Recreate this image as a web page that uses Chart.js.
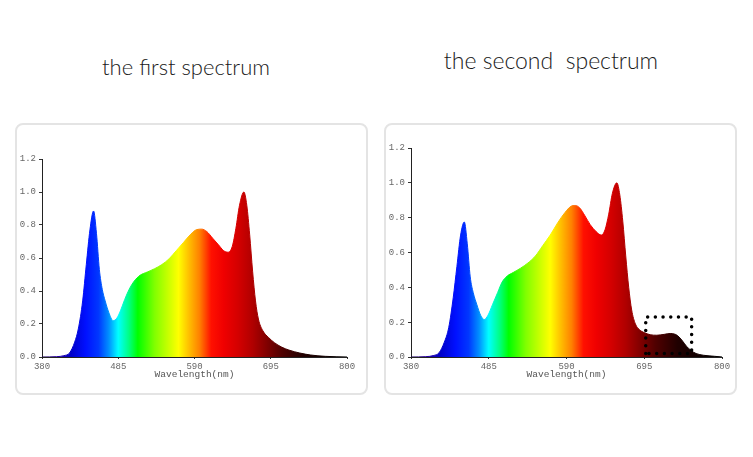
<!DOCTYPE html>
<html>
<head>
<meta charset="utf-8">
<script src="https://cdn.jsdelivr.net/npm/chart.js@4.4.1/dist/chart.umd.min.js"></script>
<style>
  html, body { margin:0; padding:0; background:#fff; width:753px; height:457px; overflow:hidden; }
  .title { position:absolute; font-family:"Lato", sans-serif; font-weight:300; font-size:23px; color:#1a1a1a; white-space:pre; text-align:center; }
  .panel { position:absolute; left:0; top:0; width:353px; height:272px; box-sizing:border-box; border:2px solid #e4e4e4; border-radius:8px; }
  .wrap { position:absolute; width:353px; height:272px; }
  canvas { position:absolute; left:0; top:0; }
</style>
</head>
<body>
<div class="title" id="t1" style="left:86px; top:53px; width:200px; font-size:22px;">the first spectrum</div>
<div class="title" id="t2" style="left:431px; top:46px; width:240px;">the second  spectrum</div>
<div class="wrap" style="left:15px; top:123px;"><div class="panel"></div><canvas id="c1" width="353" height="272"></canvas></div>
<div class="wrap" style="left:384px; top:123px;"><div class="panel"></div><canvas id="c2" width="353" height="272"></canvas></div>
<script>
const xTicks = [380, 485, 590, 695, 800];
const yTicks = [0.0, 0.2, 0.4, 0.6, 0.8, 1.0, 1.2];
const xLabel = "Wavelength(nm)";

const wavelengths1 = [380,400,410,418,425,430,436,441,446,451,455,459,463,467,472,478,483,488,494,500,507,515,525,535,545,555,565,575,585,593,600,607,615,623,630,636,642,647,652,658,662,666,670,674,678,684,692,700,710,720,735,750,770,800];
const intensity1  = [0,0.002,0.008,0.025,0.09,0.17,0.34,0.56,0.77,0.885,0.75,0.53,0.41,0.34,0.27,0.22,0.235,0.28,0.35,0.41,0.46,0.495,0.515,0.535,0.56,0.595,0.645,0.695,0.745,0.772,0.775,0.76,0.72,0.68,0.645,0.635,0.67,0.78,0.92,1.0,0.92,0.74,0.52,0.34,0.23,0.16,0.118,0.087,0.06,0.042,0.024,0.012,0.004,0];

const wavelengths2 = [380,400,410,418,425,431,437,442,447,452,456,460,464,469,474,479,484,490,497,503,510,518,528,538,548,558,568,578,588,596,602,608,615,622,630,637,642,647,652,658,662,666,670,674,678,683,689,695,703,712,722,730,737,742,747,752,758,765,775,790,800];
const intensity2  = [0,0.002,0.008,0.025,0.085,0.17,0.34,0.52,0.7,0.775,0.65,0.46,0.37,0.3,0.24,0.215,0.24,0.3,0.37,0.43,0.465,0.485,0.51,0.54,0.58,0.64,0.7,0.77,0.83,0.865,0.87,0.855,0.81,0.76,0.72,0.7,0.73,0.82,0.94,1.0,0.93,0.78,0.58,0.4,0.27,0.19,0.155,0.14,0.128,0.125,0.13,0.135,0.13,0.115,0.09,0.062,0.038,0.02,0.01,0.004,0];

const highlightX = [697, 759];
const highlightY = [0.02, 0.23];

const colorStopsNm = [380,400,420,440,458,472,485,500,512,535,568,582,597,613,630,650,670,690,710,740,800];
const colorStops = ['#1a0050','#2a00a0','#0000c8','#0010ff','#0038ff','#0090ff','#00ffff','#00ff80','#00ff00','#80ff00','#ffff00','#ffc000','#ff8000','#ff1000','#f00000','#d40000','#b00000','#800000','#500000','#200000','#000000'];

function spectrumGradient(ctx) {
  const chart = ctx.chart;
  const area = chart.chartArea;
  if (!area) return '#888';
  const xs = chart.scales.x;
  const x0 = xs.getPixelForValue(380), x1 = xs.getPixelForValue(800);
  const g = chart.ctx.createLinearGradient(x0, 0, x1, 0);
  colorStopsNm.forEach((nm, i) => {
    g.addColorStop((xs.getPixelForValue(nm) - x0) / (x1 - x0), colorStops[i]);
  });
  return g;
}

function makeChart(id, wl, vals, padTop, padRight, extra) {
  const datasets = [{
    data: wl.map((w, i) => ({x: w, y: vals[i]})),
    fill: 'origin',
    backgroundColor: spectrumGradient,
    borderColor: spectrumGradient,
    borderWidth: 1,
    pointRadius: 0,
    cubicInterpolationMode: 'monotone',
    tension: 0.4,
    order: 2
  }];
  if (extra) datasets.push(extra);
  const mono = { family: '"Liberation Mono", monospace', size: 9 };
  return new Chart(document.getElementById(id), {
    type: 'line',
    data: { datasets },
    options: {
      responsive: false,
      animation: false,
      layout: { padding: { left: 0, right: padRight, top: padTop, bottom: 15 } },
      plugins: { legend: { display: false }, tooltip: { enabled: false } },
      scales: {
        x: {
          type: 'linear', min: 380, max: 800,
          afterBuildTicks: s => { s.ticks = xTicks.map(v => ({value: v})); },
          afterFit: s => { s.height = 23; },
          ticks: { font: mono, color: '#666', padding: 2, maxRotation: 0, autoSkip: false },
          grid: { drawOnChartArea: false, drawTicks: true, tickLength: 2, color: '#333' },
          border: { display: true, color: '#222', width: 1 },
          title: { display: true, text: xLabel, font: { family: '"Liberation Mono", monospace', size: 9.5 }, color: '#555', padding: { top: 0, bottom: 0 } }
        },
        y: {
          min: 0, max: 1.2,
          afterBuildTicks: s => { s.ticks = yTicks.map(v => ({value: v})); },
          afterFit: s => { s.width = 27; },
          ticks: { font: mono, color: '#666', padding: 3, callback: v => Number(v).toFixed(1) },
          grid: { drawOnChartArea: false, drawTicks: true, tickLength: 3, color: '#333' },
          border: { display: true, color: '#222', width: 1 }
        }
      }
    }
  });
}

makeChart('c1', wavelengths1, intensity1, 36, 21, null);

const box = {
  data: [
    {x: highlightX[0], y: highlightY[0]},
    {x: highlightX[0], y: highlightY[1]},
    {x: highlightX[1], y: highlightY[1]},
    {x: highlightX[1], y: highlightY[0]},
    {x: highlightX[0], y: highlightY[0]}
  ],
  fill: false,
  borderColor: '#000',
  borderWidth: 3.5,
  borderDash: [0, 7.7],
  borderCapStyle: 'round',
  pointRadius: 0,
  tension: 0,
  order: 1
};
makeChart('c2', wavelengths2, intensity2, 25, 15, box);
</script>
</body>
</html>
